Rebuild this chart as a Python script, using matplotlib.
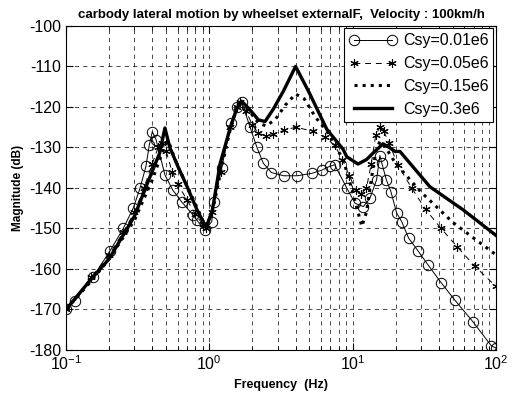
import matplotlib
matplotlib.use('Agg')
import matplotlib.pyplot as plt
from matplotlib.ticker import LogLocator, MultipleLocator, NullFormatter

plt.rcParams['font.family'] = ['Liberation Sans', 'DejaVu Sans']
plt.rcParams['mathtext.fontset'] = 'custom'
plt.rcParams['mathtext.rm'] = 'Liberation Sans'
plt.rcParams['axes.unicode_minus'] = False

# Csy = 0.01e6 (circles)
f1 = [0.1, 0.116, 0.155, 0.203, 0.251, 0.295, 0.328, 0.361, 0.381, 0.40, 0.425,
      0.49, 0.555, 0.64, 0.77, 0.82, 0.93, 1.04, 1.07, 1.22, 1.41, 1.55, 1.68,
      1.92, 2.15, 2.38, 2.71, 3.3, 4.1, 5.2, 6.1, 6.9, 7.5, 9.1, 10.4, 11.9,
      13.2, 14.7, 15.5, 16.0, 17.2, 18.5, 20.3, 22, 24.6, 28.7, 33.6, 41.7,
      51.7, 69, 93, 100]
m1 = [-170, -167.8, -161.9, -155.5, -150, -144.9, -140.1, -134.7, -129.4, -126.1, -128.1,
      -136.8, -140.5, -143.4, -146.7, -148, -150.5, -148.3, -143.5, -135.1, -124, -119.9, -118.7,
      -124.9, -130, -133.9, -136.2, -137, -137, -136.4, -135.6, -134.7, -134.3, -140, -143.8, -144.6,
      -142.6, -138, -132, -133.9, -138, -140.9, -146.2, -148.3, -152.4, -155.6, -159, -163.5,
      -167.7, -173, -179, -179.5]

# Csy = 0.05e6 (stars)
f2 = [0.1, 0.15, 0.2, 0.25, 0.3, 0.35, 0.4, 0.44, 0.47, 0.5, 0.55, 0.6, 0.7, 0.8,
      0.9, 0.95, 1.05, 1.2, 1.4, 1.55, 1.65, 1.8, 2.0, 2.2, 2.5, 2.8, 3.3, 4.0,
      5.3, 6.4, 7.5, 8.5, 9.5, 10.5, 11.5, 12.5, 13.5, 14.5, 15.5, 16.5, 18,
      20.7, 25.8, 32.3, 41.2, 53.6, 71.6, 100]
m2 = [-170, -162, -156.5, -151, -146, -140, -134, -130, -129, -131, -136, -139, -143, -146.5,
      -149, -150, -146, -136, -125, -120, -118.8, -121, -124.5, -126.5, -127.2, -126.8, -125.8, -125,
      -126, -127.5, -129.5, -133, -137, -140.5, -141.5, -140, -134, -127, -125, -126, -129,
      -134.3, -140, -145.3, -149.9, -154.5, -159.4, -164.3]

# Csy = 0.15e6 (dotted)
f3 = [0.1, 0.15, 0.2, 0.3, 0.4, 0.45, 0.5, 0.52, 0.55, 0.6, 0.7, 0.8, 0.9, 0.95,
      1.05, 1.2, 1.4, 1.55, 1.7, 1.9, 2.2, 2.5, 2.9, 3.4, 4.0, 4.6, 5.5, 6.6,
      8.6, 10, 11.6, 12.5, 13.5, 14.5, 15.5, 17, 20, 30, 50, 100]
m3 = [-170, -163, -157.5, -148, -138, -133, -129, -128.5, -131, -134.5, -139.5, -144, -148, -149.5,
      -146, -136, -125.5, -120.5, -118.8, -121, -124, -124.7, -123, -119.5, -116.8, -118, -122.5, -126,
      -133, -141, -149.5, -146, -138, -131, -128.5, -130, -134, -141, -148.5, -156.5]

# Csy = 0.3e6 (solid)
f4 = [0.1, 0.15, 0.2, 0.3, 0.385, 0.45, 0.49, 0.53, 0.6, 0.7, 0.82, 0.95, 1.05,
      1.19, 1.39, 1.55, 1.68, 1.9, 2.2, 2.45, 2.8, 3.3, 4.0, 5.0, 6.6, 8.6, 9.1,
      10.9, 12.5, 13.9, 16.3, 18, 19.8, 21.4, 34.6, 59, 100]
m4 = [-170, -162.5, -157.5, -147, -137.3, -131.4, -125.2, -130, -134.5, -139.7, -145.4, -149.8, -145.5,
      -134, -125.5, -120.5, -118.6, -120.5, -123.2, -123.6, -120.5, -116, -110, -116.6, -125.5, -130.5, -132.3,
      -134.1, -133, -131.4, -129.1, -130, -131, -131, -139.7, -145.4, -151.7]

labels = ['Csy=0.01e6', 'Csy=0.05e6', 'Csy=0.15e6', 'Csy=0.3e6']

fig = plt.figure(figsize=(5.16, 4.05), dpi=100)
ax = fig.add_axes([0.128, 0.136, 0.833, 0.800])

ax.semilogx(f1, m1, '-', color='k', lw=0.7, marker='o', ms=7.5, mfc='none', mew=0.7, label=labels[0])
ax.semilogx(f2, m2, '--', color='k', lw=0.7, dashes=(6, 5), marker=(6, 2, 0), ms=6, mew=0.8,
            label=labels[1])
ax.semilogx(f3, m3, ':', color='k', lw=2.2, label=labels[2])
ax.semilogx(f4, m4, '-', color='k', lw=2.4, label=labels[3])

ax.set_xlim(0.1, 100)
ax.set_ylim(-180, -100)
ax.yaxis.set_major_locator(MultipleLocator(10))
ax.xaxis.set_major_locator(LogLocator(base=10))
ax.xaxis.set_minor_locator(LogLocator(base=10, subs=range(2, 10)))
ax.xaxis.set_minor_formatter(NullFormatter())

ax.grid(True, which='major', color='k', linestyle=(0, (6, 6)), lw=0.5)
ax.grid(True, which='minor', axis='x', color='k', linestyle=(0, (6, 6)), lw=0.5)
ax.tick_params(which='both', direction='in', top=True, right=True, labelsize=11.5)
ax.tick_params(which='major', length=5)
ax.tick_params(which='minor', length=3)
for s in ax.spines.values():
    s.set_linewidth(0.8)

ax.set_title('carbody lateral motion by wheelset externalF,  Velocity : 100km/h',
             fontsize=9.5, fontweight='bold', pad=6)
ax.set_xlabel('Frequency  (Hz)', fontsize=9, fontweight='bold', labelpad=4)
ax.set_ylabel('Magnitude (dB)', fontsize=8.5, fontweight='bold', labelpad=4)

leg = ax.legend(loc='upper right', fontsize=11.5, numpoints=2, handlelength=3.0,
                fancybox=False, framealpha=1, edgecolor='k', borderpad=0.3,
                labelspacing=0.5, handletextpad=0.4, borderaxespad=0.15)
leg.get_frame().set_linewidth(0.8)

plt.savefig('out.png', dpi=100)
